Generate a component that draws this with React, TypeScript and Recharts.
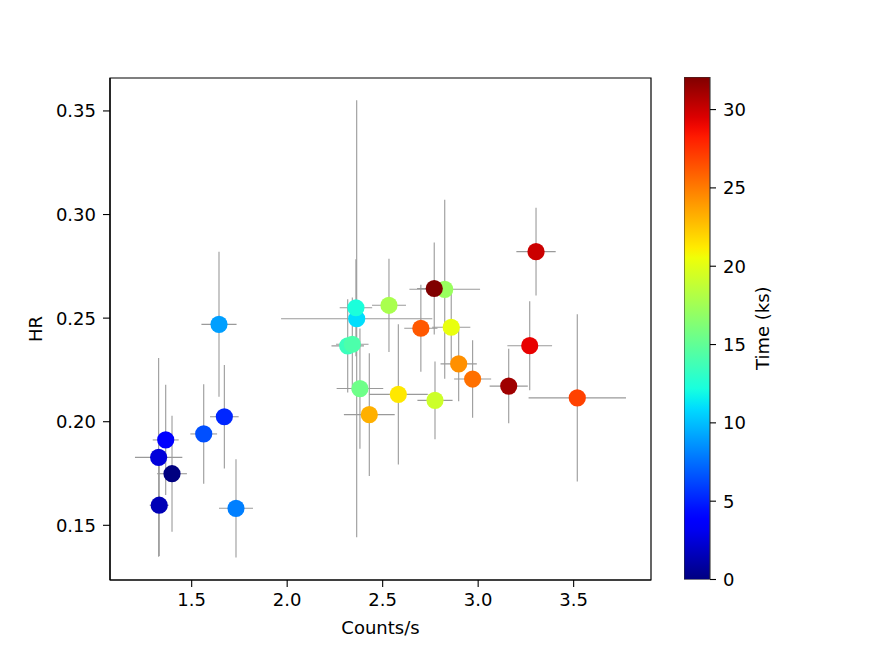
import React from 'react';
import {
  ScatterChart,
  Scatter,
  XAxis,
  YAxis,
  ErrorBar,
  ReferenceArea,
  BarChart,
  Bar,
} from 'recharts';

// ---- data ----
const times = [0, 1.5, 2.5, 3.7, 5.2, 6.5, 8, 9, 11, 12.3, 13.5, 14.2, 15.5, 17.2, 17.8, 19.2, 20.3, 21.3, 23.2, 24.3, 25.4, 26.2, 27, 29.2, 30, 31.2, 32.08];
const counts = [1.397, 1.330, 1.327, 1.364, 1.671, 1.563, 1.732, 1.643, 2.364, 2.360, 2.317, 2.341, 2.381, 2.825, 2.533, 2.774, 2.859, 2.582, 2.430, 2.898, 2.971, 2.700, 3.519, 3.270, 3.303, 3.160, 2.770];
const countsErr = [0.078, 0.050, 0.124, 0.068, 0.075, 0.070, 0.089, 0.092, 0.396, 0.085, 0.085, 0.085, 0.122, 0.185, 0.089, 0.092, 0.100, 0.154, 0.133, 0.095, 0.097, 0.087, 0.255, 0.117, 0.103, 0.100, 0.090];
const hr = [0.1749, 0.1597, 0.1828, 0.1912, 0.2024, 0.1941, 0.1582, 0.2470, 0.2497, 0.2550, 0.2366, 0.2374, 0.2160, 0.2639, 0.2562, 0.2103, 0.2456, 0.2132, 0.2034, 0.2279, 0.2206, 0.2451, 0.2115, 0.2367, 0.2821, 0.2172, 0.2643];
const hrErr = [0.028, 0.0245, 0.048, 0.0266, 0.025, 0.024, 0.0237, 0.035, 0.1055, 0.0234, 0.0225, 0.0225, 0.029, 0.0432, 0.0225, 0.0188, 0.016, 0.0338, 0.0296, 0.018, 0.0187, 0.021, 0.0404, 0.0215, 0.0212, 0.018, 0.0222];

const xTicks = [1.5, 2.0, 2.5, 3.0, 3.5];
const yTicks = [0.15, 0.2, 0.25, 0.3, 0.35];
const timeTicks = [0, 5, 10, 15, 20, 25, 30];
const X_DOMAIN: [number, number] = [1.0723, 3.905];
const Y_DOMAIN: [number, number] = [0.1236, 0.3659];
const TIME_MAX = 32.08;

const points = times.map((t, i) => ({
  t,
  x: counts[i],
  y: hr[i],
  ex: countsErr[i],
  ey: hrErr[i],
}));
const colorbarData = [{ name: 'time', value: TIME_MAX }];

// ---- matplotlib "jet" colormap ----
const JET = {
  r: [[0, 0], [0.35, 0], [0.66, 1], [0.89, 1], [1, 0.5]],
  g: [[0, 0], [0.125, 0], [0.375, 1], [0.64, 1], [0.91, 0], [1, 0]],
  b: [[0, 0.5], [0.11, 1], [0.34, 1], [0.65, 0], [1, 0]],
};
function seg(pts: number[][], v: number) {
  for (let i = 1; i < pts.length; i++) {
    if (v <= pts[i][0]) {
      const [x0, y0] = pts[i - 1];
      const [x1, y1] = pts[i];
      return y0 + ((v - x0) / (x1 - x0)) * (y1 - y0);
    }
  }
  return pts[pts.length - 1][1];
}
function jet(v: number) {
  const c = Math.max(0, Math.min(1, v));
  const h = (n: number) => Math.round(n * 255).toString(16).padStart(2, '0');
  return '#' + h(seg(JET.r, c)) + h(seg(JET.g, c)) + h(seg(JET.b, c));
}
const gradStops = Array.from({ length: 51 }, (_, i) => i / 50);

const FONT = 'DejaVu Sans';
const tickStyle = { fill: '#000', fontSize: 18, fontFamily: FONT };

const Dot = (props: any) => {
  const { cx, cy, payload } = props;
  if (cx == null || cy == null) return null;
  return <circle cx={cx} cy={cy} r={8.6} fill={jet(payload.t / TIME_MAX)} />;
};

export default function App() {
  return (
    <div style={{ position: 'absolute', left: 0, top: 0, width: 872, height: 653, background: '#fff' }}>
      <div style={{ position: 'absolute', left: 0, top: 0 }}>
        <ScatterChart width={872} height={653} margin={{ top: 78, right: 221, bottom: 33, left: 50 }}>
          <XAxis
            type="number"
            dataKey="x"
            domain={X_DOMAIN}
            allowDataOverflow
            ticks={xTicks}
            tickFormatter={(v: number) => v.toFixed(1)}
            tickSize={7}
            tickMargin={6}
            height={40}
            axisLine={{ stroke: '#000', strokeWidth: 1.2 }}
            tickLine={{ stroke: '#000', strokeWidth: 1.1 }}
            tick={tickStyle}
            label={{ value: 'Counts/s', position: 'center', dy: 28, fill: '#000', fontSize: 18, fontFamily: FONT }}
          />
          <YAxis
            type="number"
            dataKey="y"
            domain={Y_DOMAIN}
            allowDataOverflow
            ticks={yTicks}
            tickFormatter={(v: number) => v.toFixed(2)}
            tickSize={7}
            tickMargin={7}
            width={60}
            axisLine={{ stroke: '#000', strokeWidth: 1.2 }}
            tickLine={{ stroke: '#000', strokeWidth: 1.1 }}
            tick={tickStyle}
            label={{ value: 'HR', position: 'center', angle: -90, dx: -44, fill: '#000', fontSize: 18, fontFamily: FONT }}
          />
          <Scatter data={points} shape={Dot} isAnimationActive={false}>
            <ErrorBar dataKey="ex" direction="x" width={0} stroke="#9a9a9a" strokeWidth={1.1} isAnimationActive={false} />
            <ErrorBar dataKey="ey" direction="y" width={0} stroke="#9a9a9a" strokeWidth={1.1} isAnimationActive={false} />
          </Scatter>
          <ReferenceArea
            x1={X_DOMAIN[0]}
            x2={X_DOMAIN[1]}
            y1={Y_DOMAIN[0]}
            y2={Y_DOMAIN[1]}
            fill="none"
            stroke="#000"
            strokeWidth={1.2}
            ifOverflow="visible"
          />
        </ScatterChart>
      </div>
      <div style={{ position: 'absolute', left: 684, top: 0 }}>
        <BarChart
          width={188}
          height={653}
          data={colorbarData}
          barCategoryGap={0}
          margin={{ top: 77, right: 56, bottom: 73.5, left: 0 }}
        >
          <defs>
            <linearGradient id="jetGrad" x1="0" y1="1" x2="0" y2="0">
              {gradStops.map((s) => (
                <stop key={s} offset={s} stopColor={jet(s)} />
              ))}
            </linearGradient>
          </defs>
          <XAxis dataKey="name" hide />
          <YAxis
            orientation="right"
            type="number"
            domain={[0, TIME_MAX]}
            allowDataOverflow
            ticks={timeTicks}
            tickSize={6}
            tickMargin={7}
            width={106}
            axisLine={false}
            tickLine={{ stroke: '#000', strokeWidth: 1.1 }}
            tick={tickStyle}
            label={{ value: 'Time (ks)', position: 'center', angle: -90, fill: '#000', fontSize: 18, fontFamily: FONT }}
          />
          <Bar dataKey="value" fill="url(#jetGrad)" stroke="#333" strokeWidth={1.1} isAnimationActive={false} />
        </BarChart>
      </div>
    </div>
  );
}
